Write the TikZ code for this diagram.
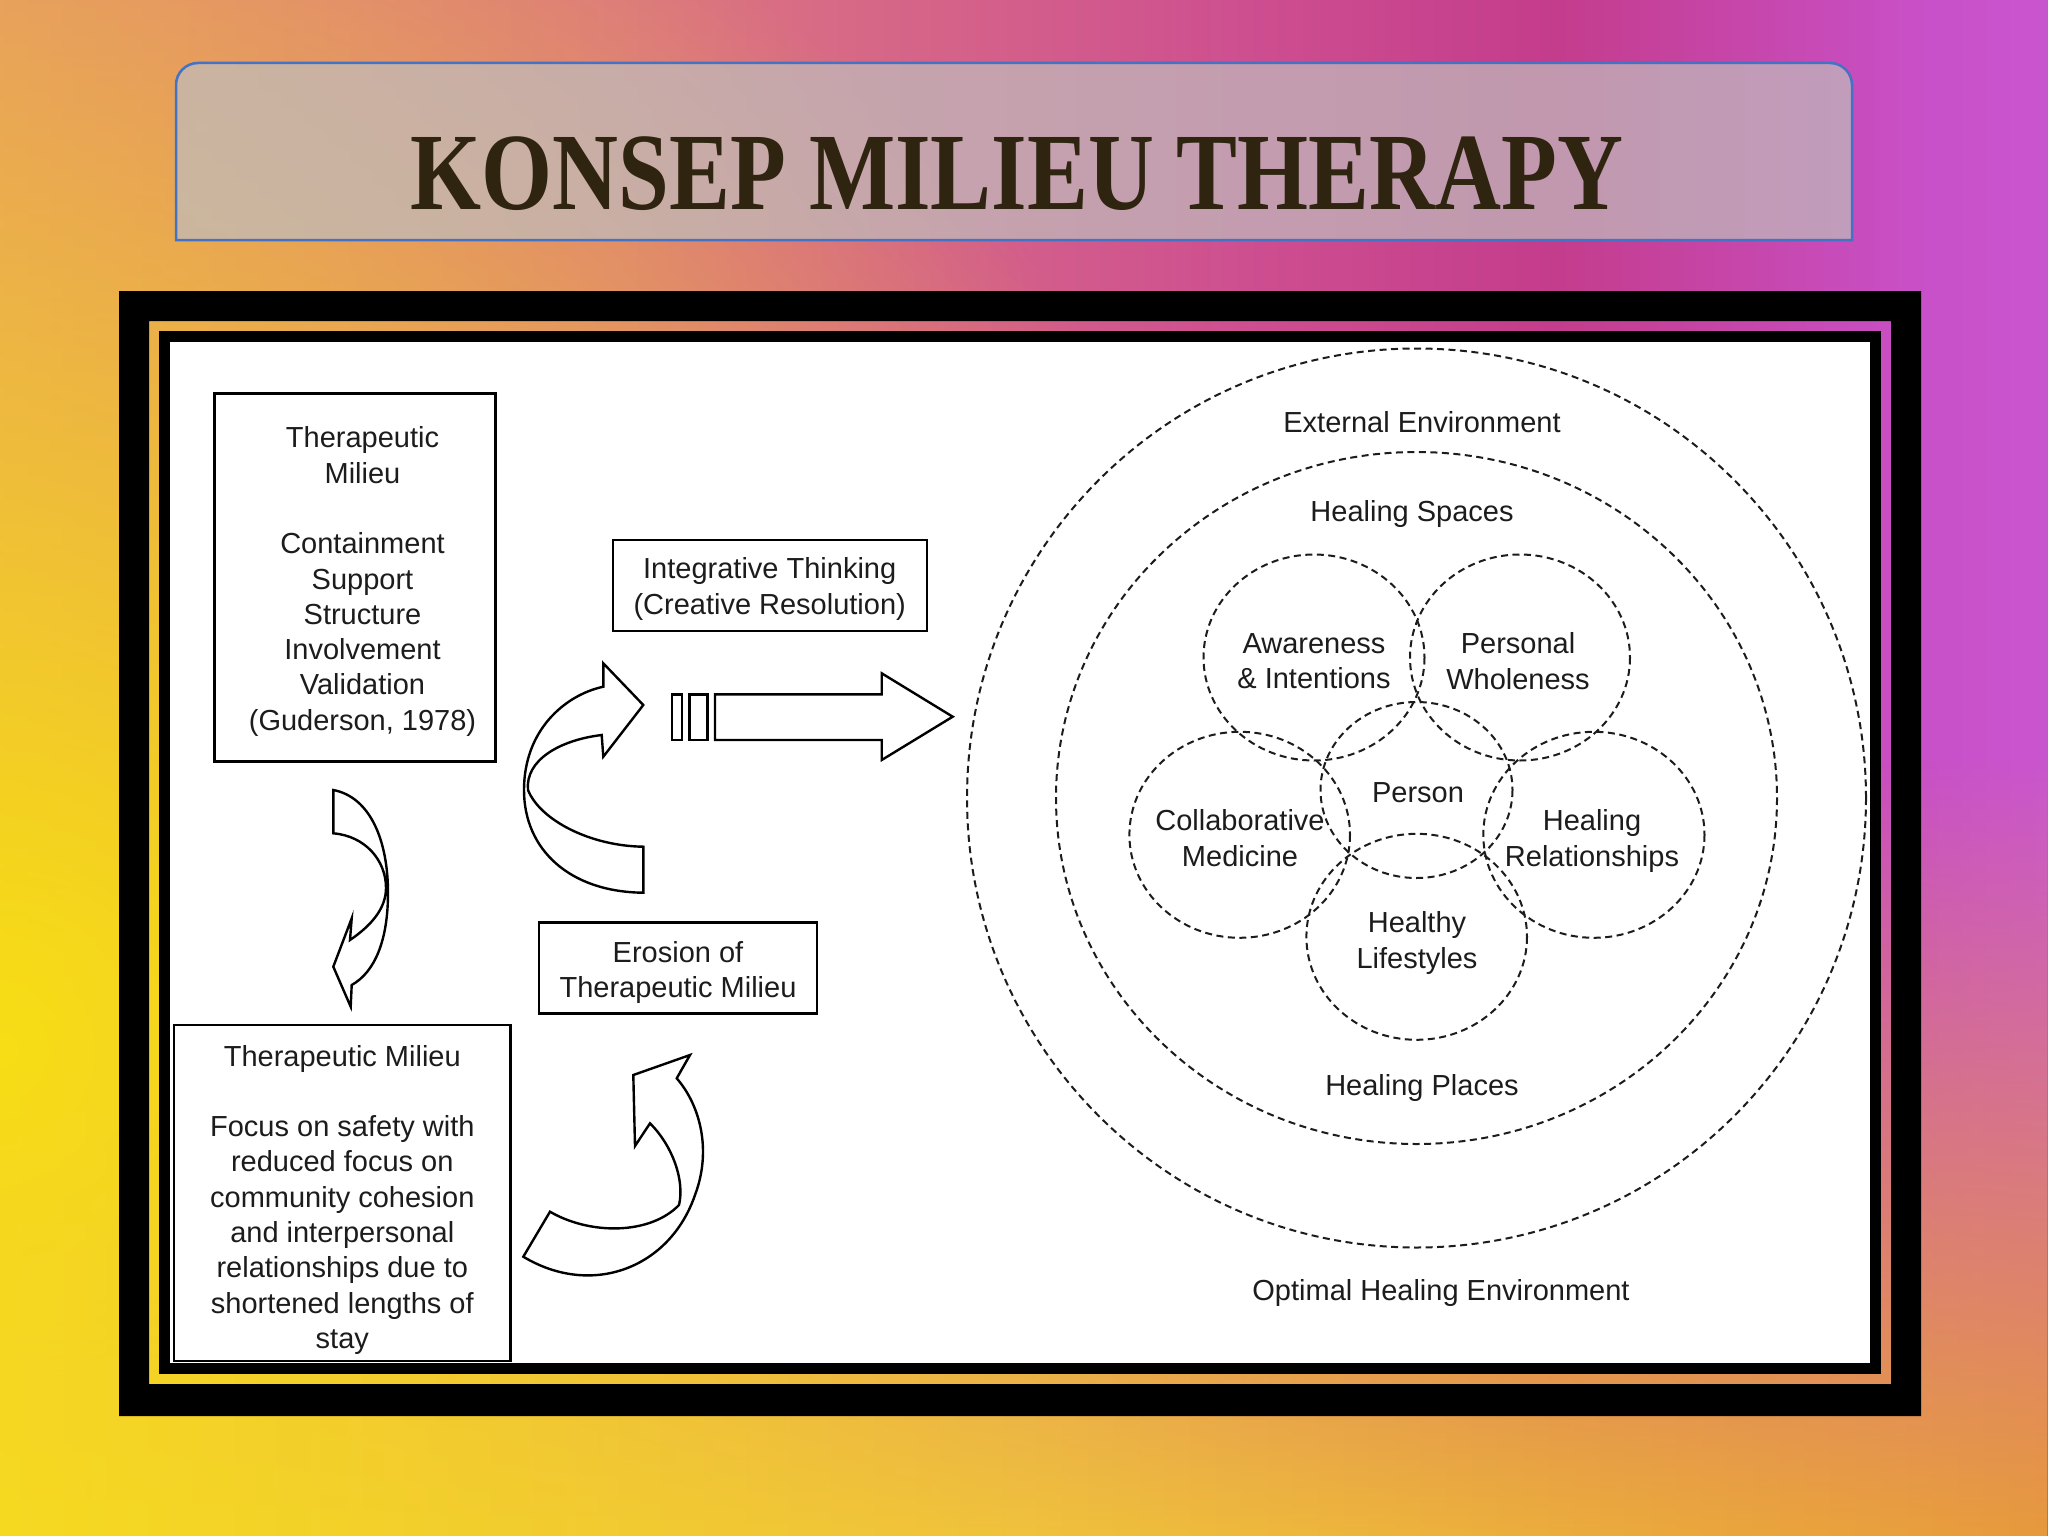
\documentclass[tikz,border=0pt]{standalone}
\usepackage{fontspec}
\setmainfont{Liberation Sans}
\newfontfamily\titlefont{Liberation Serif}
\usetikzlibrary{fadings}

\definecolor{slideA}{HTML}{EBAA66}
\definecolor{slideB}{HTML}{E6986A}
\definecolor{slideC}{HTML}{DC7880}
\definecolor{slideD}{HTML}{CE5090}
\definecolor{slideE}{HTML}{C43C8C}
\definecolor{slideF}{HTML}{C850C8}
\definecolor{slideG}{HTML}{CE66E4}
\definecolor{slideH}{HTML}{D878F2}
\definecolor{glowY}{HTML}{F8E010}
\definecolor{glowL}{HTML}{F6DA20}
\definecolor{glowM}{HTML}{F0C23C}
\definecolor{glowR}{HTML}{E89A3C}
\definecolor{titleink}{HTML}{2E2410}
\definecolor{titleedge}{HTML}{4472C4}
\definecolor{titlefill}{RGB}{192,188,188}
\definecolor{diagink}{HTML}{1C1C1C}

\pgfdeclarehorizontalshading{slidebg}{100bp}{color(0bp)=(slideA); color(22bp)=(slideB);
  color(40bp)=(slideC); color(55bp)=(slideD); color(63bp)=(slideE); color(72bp)=(slideF);
  color(85bp)=(slideG); color(100bp)=(slideH)}
\tikzfading[name=glowfade, inner color=transparent!0, outer color=transparent!100]

\newcommand\diagfont{\fontsize{29}{35.3}\selectfont}

\begin{document}
\begin{tikzpicture}[x=1pt, y=-1pt,
  box/.style={draw=black, line width=2.4pt, inner sep=0pt},
  lbl/.style={align=center, inner sep=0pt, text=diagink, font=\diagfont},
  ring/.style={draw=diagink, line width=2pt, dash pattern=on 7pt off 4.5pt},
  blk/.style={draw=black, line width=2.4pt, line join=miter}]
\useasboundingbox (0,0) rectangle (2048,1536);
\clip (0,0) rectangle (2048,1536);

% slide background
\shade[shading=slidebg] (0,0) rectangle (2048,1536);
\fill[glowY, path fading=glowfade] (-1300,-250) rectangle (1300,2350);
\shade[left color=glowL, right color=glowR, middle color=glowM, path fading=north] (0,760) rectangle (2048,1536);

% title bar
\draw[titleedge, line width=2.5pt, fill=titlefill, fill opacity=0.72]
  (176,240) -- (176,85) arc[start angle=180, end angle=270, radius=22]
  -- (1830,63) arc[start angle=270, end angle=360, radius=22] -- (1852,240) -- cycle;
\node[font=\titlefont\bfseries\fontsize{110}{110}\selectfont, text=titleink, inner sep=0pt] (title)
  at (1017,174) {\scalebox{0.83}[1]{KONSEP MILIEU THERAPY}};

% picture frame
\fill[black, even odd rule] (119,291) rectangle (1921,1416) (149,321) rectangle (1891,1384);
\fill[black] (159,331) rectangle (1881,1374);
\fill[white] (170,342) rectangle (1870,1363);

% left part
\node[box, minimum width=281pt, minimum height=368pt] (milieu) at (355,577.5) {};
\node[lbl] (milieutxt) at (362.5,581.5)
  {Therapeutic\\Milieu\\[35.3pt]Containment\\Support\\Structure\\Involvement\\Validation\\(Guderson, 1978)};
\node[box, minimum width=314pt, minimum height=91pt] (integr) at (769.7,585.5) {};
\node[lbl] (integrtxt) at (769.7,589) {Integrative Thinking\\(Creative Resolution)};
\node[box, minimum width=278pt, minimum height=91pt] (erosion) at (678,968) {};
\node[lbl] (erosiontxt) at (678,972.5) {Erosion of\\Therapeutic Milieu};
\node[box, minimum width=336.5pt, minimum height=336pt] (safety) at (342.3,1193.2) {};
\node[lbl] (safetytxt) at (342.3,1199.7)
  {Therapeutic Milieu\\[35.3pt]Focus on safety with\\reduced focus on\\community cohesion\\and interpersonal\\relationships due to\\shortened lengths of\\stay};

% block arrows
\draw[blk] (333.3,790) .. controls (370,797) and (388,840) .. (388,893)
  .. controls (388,940) and (375,972) .. (351.7,985) -- (350.7,1006.7) -- (333.3,966.7)
  -- (351.7,918.3) -- (350,940) .. controls (372,925) and (386,908) .. (386,888)
  .. controls (386,860) and (365,836) .. (333.3,833.3) -- cycle;
\draw[blk] (603.3,686.7) .. controls (565,695) and (524,730) .. (524,790)
  .. controls (524,850) and (570,892) .. (643.3,892.7) -- (643.3,846.7)
  .. controls (590,846) and (540,820) .. (528,790) .. controls (525,760) and (560,740) .. (601.7,735)
  -- (603.3,756.7) -- (643.3,705) -- (603.3,663.3) -- cycle;
\draw[blk] (523.3,1256.7) -- (550,1211.7) .. controls (590,1235) and (650,1235) .. (679,1205)
  .. controls (685,1180) and (672,1145) .. (650,1123.3) -- (635,1146) -- (633.3,1075)
  -- (690,1055) -- (676.7,1078.3) .. controls (700,1105) and (712,1150) .. (695,1195)
  .. controls (670,1268) and (592,1298) .. cycle;
\draw[blk] (671.7,694.3) rectangle (681.7,740);
\draw[blk] (689.3,694.3) rectangle (707.3,740);
\draw[blk] (715,694.3) -- (881.7,694.3) -- (881.7,673.3) -- (952.7,716.7)
  -- (881.7,760) -- (881.7,740) -- (715,740) -- cycle;

% healing environment
\draw[ring] (1416.5,798) circle[radius=449.5];
\draw[ring] (1416.5,798) ellipse[x radius=360.5, y radius=346];
\draw[ring] (1314,657.5) ellipse[x radius=110.5, y radius=103];
\draw[ring] (1520,657.5) ellipse[x radius=110, y radius=103];
\draw[ring] (1416.5,790) ellipse[x radius=96, y radius=88];
\draw[ring] (1239.7,834.8) ellipse[x radius=110.3, y radius=103];
\draw[ring] (1593.9,834.8) ellipse[x radius=110.6, y radius=103];
\draw[ring] (1416.7,936.8) ellipse[x radius=110.3, y radius=103];

\node[lbl] (extenv) at (1422,422) {External Environment};
\node[lbl] (spaces) at (1412,514) {Healing Spaces};
\node[lbl] (aware) at (1314,661) {Awareness\\\& Intentions};
\node[lbl] (whole) at (1518,661) {Personal\\Wholeness};
\node[lbl] (person) at (1418,793) {Person};
\node[lbl] (collab) at (1240,838) {Collaborative\\Medicine};
\node[lbl] (healrel) at (1592,841) {Healing\\Relationships};
\node[lbl] (lifestyle) at (1417,943) {Healthy\\Lifestyles};
\node[lbl] (places) at (1422,1088) {Healing Places};
\node[lbl] (optimal) at (1441,1293) {Optimal Healing Environment};
\end{tikzpicture}
\end{document}
